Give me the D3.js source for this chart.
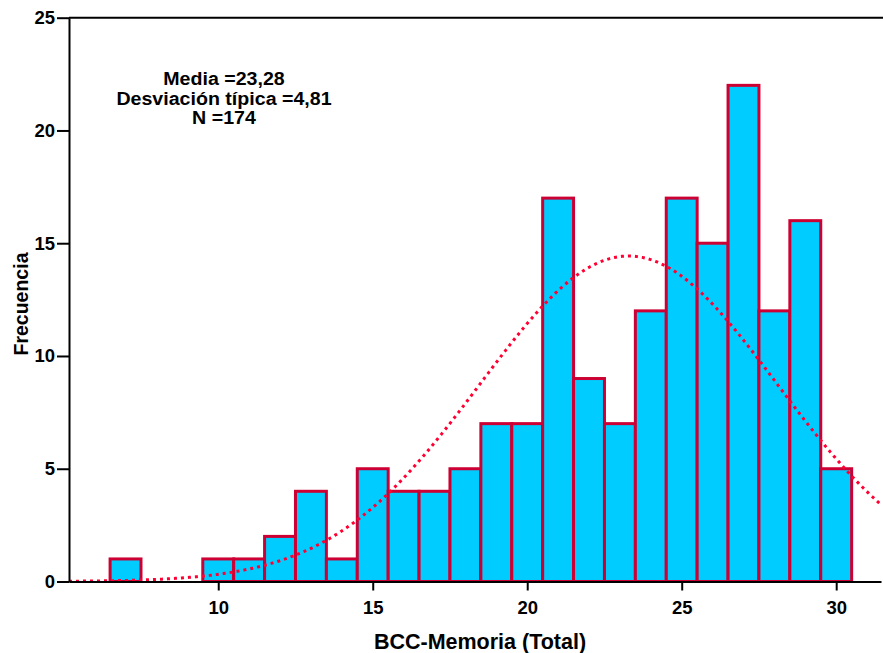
<!DOCTYPE html>
<html>
<head>
<meta charset="utf-8">
<script src="https://cdn.jsdelivr.net/npm/d3@7"></script>
<style>
  body { margin: 0; background: #fff; }
  svg text { font-family: "Liberation Sans", Arial, sans-serif; font-weight: bold; fill: #000; }
</style>
</head>
<body>
<svg id="chart" width="883" height="653"></svg>
<script>
// bin centres and counts
const binValues = [7, 8, 9, 10, 11, 12, 13, 14, 15, 16, 17, 18, 19, 20, 21, 22, 23, 24, 25, 26, 27, 28, 29, 30];
const binCounts = [1, 0, 0, 1, 1, 2, 4, 1, 5, 4, 4, 5, 7, 7, 17, 9, 7, 12, 17, 15, 22, 12, 16, 5];
const xTicks = [10, 15, 20, 25, 30];
const yTicks = [0, 5, 10, 15, 20, 25];
const stats = { mean: 23.28, sd: 4.81, n: 174 };
const statLines = ["Media =23,28", "Desviación típica =4,81", "N =174"];

const svg = d3.select("#chart");
const x = d3.scaleLinear().domain([5.17, 31.45]).range([69, 881]);
const y = d3.scaleLinear().domain([0, 25]).range([581.5, 17.7]);

// bars
svg.append("g").selectAll("rect")
  .data(binValues.map((v, i) => ({ v, c: binCounts[i] })).filter(d => d.c > 0))
  .join("rect")
  .attr("x", d => x(d.v - 0.5))
  .attr("width", d => x(d.v + 0.5) - x(d.v - 0.5))
  .attr("y", d => y(d.c))
  .attr("height", d => y(0) - y(d.c))
  .attr("fill", "#00ccff")
  .attr("stroke", "#cc0033")
  .attr("stroke-width", 3);

// normal curve from the stated mean / sd / N (bin width 1)
const pdf = v => stats.n / (stats.sd * Math.sqrt(2 * Math.PI)) * Math.exp(-0.5 * ((v - stats.mean) / stats.sd) ** 2);
const curvePts = d3.range(5.17, 31.46, 0.05).map(v => [v, pdf(v)]);
svg.append("path")
  .datum(curvePts)
  .attr("fill", "none")
  .attr("stroke", "#ff0033")
  .attr("stroke-width", 3)
  .attr("stroke-dasharray", "3,4")
  .attr("d", d3.line().x(d => x(d[0])).y(d => y(d[1])));

// axes
const xAxis = svg.append("g")
  .attr("transform", `translate(0,${y(0)})`)
  .call(d3.axisBottom(x).tickValues(xTicks).tickSize(9).tickPadding(10).tickSizeOuter(0));
const yAxis = svg.append("g")
  .attr("transform", `translate(${x.range()[0]},0)`)
  .call(d3.axisLeft(y).tickValues(yTicks).tickSize(12).tickPadding(2).tickSizeOuter(0));
[xAxis, yAxis].forEach(a => {
  a.attr("font-size", null).attr("font-family", null);
  a.select(".domain").attr("stroke", "#000").attr("stroke-width", 2);
  a.selectAll(".tick line").attr("stroke", "#000").attr("stroke-width", 2);
  a.selectAll(".tick text").style("font-size", "18.5px");
});

// top frame line
svg.append("line")
  .attr("x1", x.range()[0]).attr("x2", 883)
  .attr("y1", y(25)).attr("y2", y(25))
  .attr("stroke", "#000").attr("stroke-width", 2);

// axis titles
svg.append("text")
  .attr("x", 480).attr("y", 649)
  .attr("text-anchor", "middle")
  .style("font-size", "21.5px")
  .text("BCC-Memoria (Total)");
svg.append("text")
  .attr("transform", "translate(28,304) rotate(-90)")
  .attr("text-anchor", "middle")
  .style("font-size", "19.5px")
  .text("Frecuencia");

// stats box (slightly widened glyphs like the original)
svg.append("g").selectAll("text")
  .data(statLines)
  .join("text")
  .attr("x", 224)
  .attr("y", (d, i) => 85 + i * 19.5)
  .attr("text-anchor", "middle")
  .style("font-size", "17.5px")
  .text(d => d)
  .each(function() {
    const w = this.getComputedTextLength();
    d3.select(this).attr("textLength", w * 1.12).attr("lengthAdjust", "spacingAndGlyphs");
  });
</script>
</body>
</html>
